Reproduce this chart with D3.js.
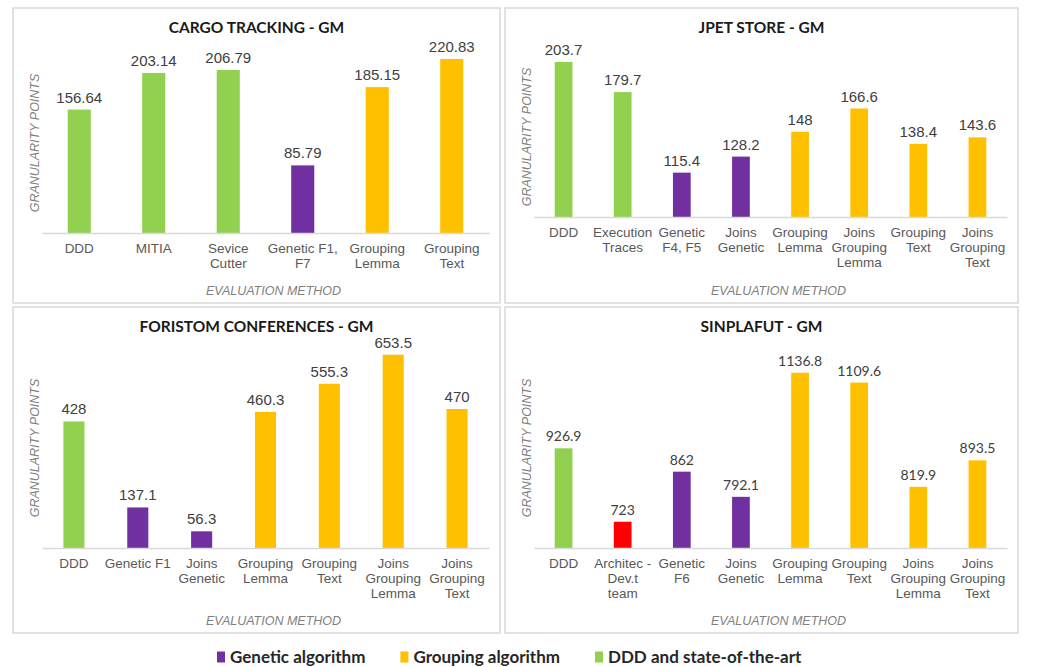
<!DOCTYPE html>
<html>
<head>
<meta charset="utf-8">
<script src="https://d3js.org/d3.v7.min.js"></script>
<style>
  body { margin: 0; background: #fff; }
  svg { display: block; }
</style>
</head>
<body>
<div id="chart"></div>
<script>
// ---- data ----
var cargoCats = ["DDD", "MITIA", "Sevice\nCutter", "Genetic F1,\nF7", "Grouping\nLemma", "Grouping\nText"];
var cargoValues = [156.64, 203.14, 206.79, 85.79, 185.15, 220.83];
var cargoGroups = ["ddd", "ddd", "ddd", "genetic", "grouping", "grouping"];

var jpetCats = ["DDD", "Execution\nTraces", "Genetic\nF4, F5", "Joins\nGenetic", "Grouping\nLemma", "Joins\nGrouping\nLemma", "Grouping\nText", "Joins\nGrouping\nText"];
var jpetValues = [203.7, 179.7, 115.4, 128.2, 148, 166.6, 138.4, 143.6];
var jpetGroups = ["ddd", "ddd", "genetic", "genetic", "grouping", "grouping", "grouping", "grouping"];

var foristomCats = ["DDD", "Genetic F1", "Joins\nGenetic", "Grouping\nLemma", "Grouping\nText", "Joins\nGrouping\nLemma", "Joins\nGrouping\nText"];
var foristomValues = [428, 137.1, 56.3, 460.3, 555.3, 653.5, 470];
var foristomGroups = ["ddd", "genetic", "genetic", "grouping", "grouping", "grouping", "grouping"];

var sinplaCats = ["DDD", "Architec -\nDev.t\nteam", "Genetic\nF6", "Joins\nGenetic", "Grouping\nLemma", "Grouping\nText", "Joins\nGrouping\nLemma", "Joins\nGrouping\nText"];
var sinplaValues = [926.9, 723, 862, 792.1, 1136.8, 1109.6, 819.9, 893.5];
var sinplaGroups = ["ddd", "team", "genetic", "genetic", "grouping", "grouping", "grouping", "grouping"];

var legendKeys = ["genetic", "grouping", "ddd"];
var legendLabels = ["Genetic algorithm", "Grouping algorithm", "DDD and state-of-the-art"];

var color = d3.scaleOrdinal()
    .domain(["ddd", "genetic", "grouping", "team"])
    .range(["#92d050", "#7030a0", "#ffc000", "#ff0000"]);

// ---- panel layout ----
var panels = [
    { title: "CARGO TRACKING - GM", cats: cargoCats, values: cargoValues, groups: cargoGroups,
      box: [13, 8, 500, 303], base: 233, top: 36, dom: [0, 250], pad: 0.69, yTitle: 143 },
    { title: "JPET STORE - GM", cats: jpetCats, values: jpetValues, groups: jpetGroups,
      box: [505, 8, 1018, 303], base: 217, top: 41.6, dom: [80, 220], pad: 0.70, yTitle: 137 },
    { title: "FORISTOM CONFERENCES - GM", cats: foristomCats, values: foristomValues, groups: foristomGroups,
      box: [13, 307, 500, 633], base: 548, top: 341, dom: [0, 700], pad: 0.67, yTitle: 448 },
    { title: "SINPLAFUT - GM", cats: sinplaCats, values: sinplaValues, groups: sinplaGroups,
      box: [505, 307, 1018, 633], base: 548, top: 350, dom: [650, 1200], pad: 0.70, yTitle: 448, calibri: true }
];

var svg = d3.select("#chart").append("svg")
    .attr("width", 1041)
    .attr("height", 667);

svg.append("rect").attr("width", 1041).attr("height", 667).attr("fill", "#fff");

panels.forEach(function (p) {
    var b = p.box;
    var g = svg.append("g");

    g.append("rect")
        .attr("x", b[0]).attr("y", b[1])
        .attr("width", b[2] - b[0]).attr("height", b[3] - b[1])
        .attr("fill", "#fff")
        .attr("stroke", "#d9d9d9")
        .attr("stroke-width", 1.5);

    var left = b[0] + 29, right = b[2] - 11;

    var x = d3.scaleBand()
        .domain(p.cats)
        .range([left, right])
        .paddingInner(p.pad)
        .paddingOuter(p.pad / 2);

    var y = d3.scaleLinear().domain(p.dom).range([p.base, p.top]);

    // title
    g.append("text")
        .attr("x", (b[0] + b[2]) / 2)
        .attr("y", b[1] + 25)
        .attr("text-anchor", "middle")
        .style("font-family", "Lato, 'Open Sans', sans-serif")
        .style("font-weight", "bold")
        .style("font-size", "15.5px")
        .style("fill", "#1a1a1a")
        .text(p.title);

    // bars
    var rows = p.cats.map(function (c, i) { return { cat: c, value: p.values[i], group: p.groups[i] }; });

    g.selectAll("rect.bar")
        .data(rows)
        .enter().append("rect")
        .attr("class", "bar")
        .attr("x", function (d) { return x(d.cat); })
        .attr("width", x.bandwidth())
        .attr("y", function (d) { return y(d.value); })
        .attr("height", function (d) { return p.base - y(d.value); })
        .attr("fill", function (d) { return color(d.group); });

    // value labels
    g.selectAll("text.val")
        .data(rows)
        .enter().append("text")
        .attr("class", "val")
        .attr("x", function (d) { return x(d.cat) + x.bandwidth() / 2; })
        .attr("y", function (d) { return y(d.value) - 7; })
        .attr("text-anchor", "middle")
        .style("font-family", p.calibri ? "Lato, sans-serif" : "'Liberation Sans', Arial, sans-serif")
        .style("font-size", p.calibri ? "14px" : "15px")
        .style("fill", "#404040")
        .text(function (d) { return d.value; });

    // category axis
    var axis = g.append("g")
        .attr("transform", "translate(0," + p.base + ")")
        .call(d3.axisBottom(x).tickSize(0).tickPadding(0));

    axis.select(".domain").attr("stroke", "#d9d9d9").attr("stroke-width", 1.5);

    axis.selectAll(".tick text").each(function (d) {
        var t = d3.select(this);
        t.text(null)
            .attr("y", 0)
            .attr("dy", null)
            .style("font-family", "'Liberation Sans', Arial, sans-serif")
            .style("font-size", "13.5px")
            .style("fill", "#595959");
        d.split("\n").forEach(function (line, i) {
            t.append("tspan").attr("x", 0).attr("y", 20 + i * 15).text(line);
        });
    });

    // axis titles
    g.append("text")
        .attr("x", (left + right) / 2 + 8)
        .attr("y", b[3] - 8)
        .attr("text-anchor", "middle")
        .style("font-family", "'Liberation Sans', Arial, sans-serif")
        .style("font-style", "italic")
        .style("font-size", "12.5px")
        .style("fill", "#7f7f7f")
        .text("EVALUATION METHOD");

    g.append("text")
        .attr("transform", "translate(" + (b[0] + 26) + "," + p.yTitle + ") rotate(-90)")
        .attr("text-anchor", "middle")
        .style("font-family", "'Liberation Sans', Arial, sans-serif")
        .style("font-style", "italic")
        .style("font-size", "12.5px")
        .style("fill", "#7f7f7f")
        .text("GRANULARITY POINTS");
});

// legend
var legend = svg.append("g").attr("transform", "translate(0,657)");
var lx = 217;
legendKeys.forEach(function (k, i) {
    var item = legend.append("g").attr("transform", "translate(" + lx + ",0)");
    item.append("rect")
        .attr("x", 0).attr("y", -5.5)
        .attr("width", 8).attr("height", 11)
        .attr("fill", color(k));
    var t = item.append("text")
        .attr("x", 13)
        .attr("y", 6)
        .style("font-family", "Lato, 'Open Sans', sans-serif")
        .style("font-weight", "bold")
        .style("font-size", "17px")
        .style("fill", "#262626")
        .text(legendLabels[i]);
    lx += 13 + t.node().getComputedTextLength() + 35;
});
</script>
</body>
</html>
